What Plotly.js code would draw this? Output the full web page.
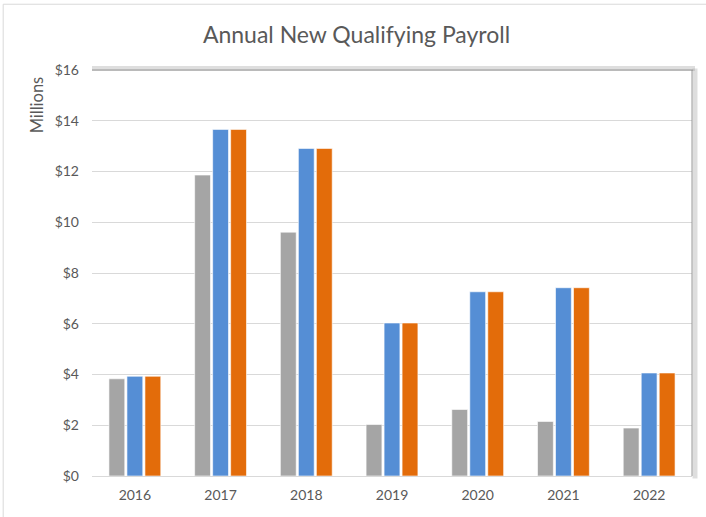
<!DOCTYPE html>
<html>
<head>
<meta charset="utf-8">
<script src="https://cdn.plot.ly/plotly-3.0.1.min.js"></script>
<style>html,body{margin:0;padding:0;background:#fff;}#chart{width:706px;height:517px;}</style>
</head>
<body>
<div id="chart"></div>
<script>
const years = ['2016','2017','2018','2019','2020','2021','2022'];
const seriesGray = [3.83, 11.86, 9.61, 2.03, 2.62, 2.15, 1.89];
const seriesBlue = [3.93, 13.66, 12.91, 6.03, 7.26, 7.42, 4.06];
const seriesOrange = [3.93, 13.66, 12.91, 6.03, 7.26, 7.42, 4.06];
const yTickVals = [0, 2, 4, 6, 8, 10, 12, 14, 16];
const yTickText = ['$0','$2','$4','$6','$8','$10','$12','$14','$16'];

const font = 'Lato, "Open Sans", "Liberation Sans", sans-serif';
function mk(name, y, color) {
  return {type:'bar', name:name, x:years, y:y,
    marker:{color:color, line:{color:'rgba(255,255,255,0.6)', width:1}},
    hoverinfo:'x+y'};
}
const data = [
  mk('Series 1', seriesGray, '#A5A5A5'),
  mk('Series 2', seriesBlue, '#558ED5'),
  mk('Series 3', seriesOrange, '#E36C0A')
];
const layout = {
  width:706, height:517,
  margin:{l:92, r:14, t:70, b:41},
  paper_bgcolor:'#fff', plot_bgcolor:'#fff',
  showlegend:false,
  barmode:'group', bargap:0.37, bargroupgap:0.12,
  font:{family:font, color:'#595959', size:14},
  title:{text:'Annual New Qualifying Payroll', x:0.505, xanchor:'center', y:0.933, yanchor:'middle',
    font:{family:font, size:23, color:'#595959'}},
  xaxis:{type:'category', showgrid:false, showline:true, linecolor:'#D9D9D9', linewidth:1,
    ticks:'', ticklabelstandoff:6, tickfont:{size:14, color:'#595959'}},
  yaxis:{range:[0,16], tickvals:yTickVals, ticktext:yTickText, showgrid:true, gridcolor:'#D9D9D9',
    gridwidth:1, zeroline:false, showline:false, ticks:'', ticklen:0, ticklabelstandoff:12,
    tickfont:{size:14, color:'#595959'}},
  annotations:[{text:'Millions', xref:'paper', yref:'paper', x:-0.092, y:0.99, xanchor:'center', yanchor:'top',
    textangle:-90, showarrow:false, font:{family:font, size:16.5, color:'#595959'}}],
  shapes:[
    {type:'line', xref:'paper', yref:'paper', x0:-0.148, x1:1.03, y0:1.162, y1:1.162, line:{color:'#D9D9D9', width:1}},
    {type:'line', xref:'paper', yref:'paper', x0:-0.148, x1:-0.148, y0:1.162, y1:-0.12, line:{color:'#D9D9D9', width:1}},
    {type:'line', xref:'paper', yref:'paper', x0:0, x1:1.005, y0:1.004, y1:1.004, line:{color:'rgba(160,160,160,0.35)', width:5}},
    {type:'line', xref:'paper', yref:'paper', x0:0, x1:1.002, y0:1.0, y1:1.0, line:{color:'rgba(140,140,140,0.6)', width:1.5}},
    {type:'line', xref:'paper', yref:'paper', x0:1.005, x1:1.005, y0:1.004, y1:-0.006, line:{color:'rgba(160,160,160,0.35)', width:5}},
    {type:'line', xref:'paper', yref:'paper', x0:1.0, x1:1.0, y0:1.0, y1:0, line:{color:'rgba(140,140,140,0.6)', width:1.5}}
  ]
};
Plotly.newPlot('chart', data, layout, {displayModeBar:false, staticPlot:true});
</script>
</body>
</html>
